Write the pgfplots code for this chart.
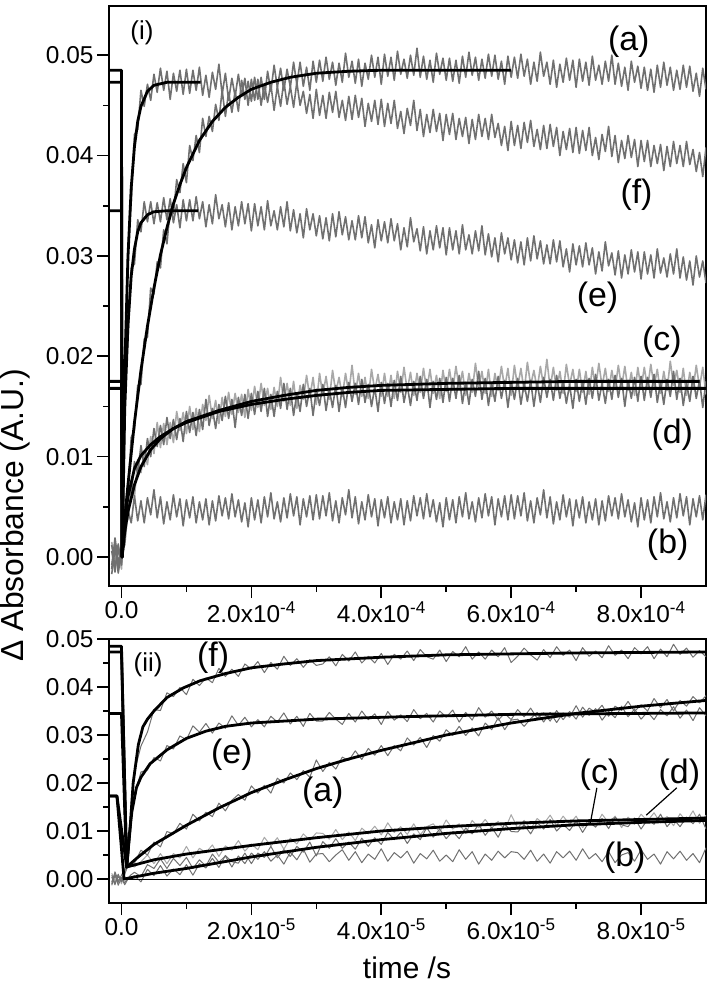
\documentclass[border=0pt]{standalone}
\usepackage{fontspec}
\setmainfont{Liberation Sans}
\usepackage{pgfplots}
\usepackage{pgfplotstable}
\pgfplotsset{compat=1.18}

\definecolor{trace}{RGB}{112,112,112}
\definecolor{tracelt}{RGB}{168,168,168}

% panel (i): time in units of 1e-4 s
\pgfplotstableread{
t a b c d e f
-0.15 0.0012 -0.0008 0.0015 -0.0012 0.0006 -0.0017
-0.10 -0.0010 0.0014 -0.0006 0.0019 -0.0015 0.0008
-0.05 0.0007 -0.0016 0.0011 -0.0004 0.0013 -0.0009
0.00 -0.0006 0.0005 -0.0012 0.0003 -0.0008 0.0010
0.05 0.0050 0.0012 0.0039 0.0026 0.0157 0.0175
0.10 0.0063 0.0047 0.0037 0.0072 0.0218 0.0308
0.15 0.0119 0.0034 0.0071 0.0062 0.0288 0.0354
0.20 0.0127 0.0061 0.0060 0.0095 0.0292 0.0421
0.25 0.0171 0.0036 0.0097 0.0084 0.0336 0.0426
0.30 0.0172 0.0056 0.0084 0.0111 0.0324 0.0465
0.35 0.0217 0.0034 0.0105 0.0090 0.0354 0.0449
0.40 0.0219 0.0059 0.0092 0.0118 0.0334 0.0471
0.45 0.0268 0.0042 0.0120 0.0100 0.0354 0.0455
0.50 0.0262 0.0067 0.0103 0.0128 0.0332 0.0481
0.55 0.0294 0.0039 0.0134 0.0110 0.0353 0.0463
0.60 0.0288 0.0060 0.0109 0.0131 0.0334 0.0487
0.65 0.0326 0.0033 0.0133 0.0112 0.0358 0.0465
0.70 0.0312 0.0055 0.0112 0.0139 0.0336 0.0484
0.75 0.0347 0.0037 0.0134 0.0118 0.0357 0.0456
0.80 0.0342 0.0062 0.0114 0.0137 0.0333 0.0482
0.85 0.0376 0.0040 0.0145 0.0117 0.0351 0.0464
0.90 0.0363 0.0058 0.0126 0.0138 0.0328 0.0485
0.95 0.0392 0.0031 0.0144 0.0115 0.0356 0.0461
1.00 0.0373 0.0057 0.0123 0.0145 0.0335 0.0486
1.05 0.0410 0.0039 0.0150 0.0124 0.0356 0.0462
1.10 0.0395 0.0060 0.0127 0.0144 0.0335 0.0485
1.15 0.0420 0.0034 0.0148 0.0121 0.0359 0.0465
1.20 0.0403 0.0055 0.0125 0.0147 0.0337 0.0488
1.25 0.0437 0.0037 0.0152 0.0127 0.0354 0.0460
1.30 0.0419 0.0058 0.0136 0.0157 0.0329 0.0480
1.35 0.0439 0.0032 0.0161 0.0131 0.0351 0.0458
1.40 0.0424 0.0056 0.0138 0.0148 0.0332 0.0483
1.45 0.0451 0.0036 0.0156 0.0128 0.0361 0.0466
1.50 0.0435 0.0061 0.0133 0.0152 0.0337 0.0491
1.55 0.0465 0.0041 0.0159 0.0136 0.0351 0.0461
1.60 0.0439 0.0059 0.0140 0.0160 0.0329 0.0482
1.65 0.0463 0.0038 0.0164 0.0138 0.0353 0.0455
1.70 0.0443 0.0063 0.0142 0.0157 0.0326 0.0477
1.75 0.0464 0.0040 0.0163 0.0129 0.0349 0.0459
1.80 0.0444 0.0057 0.0144 0.0159 0.0330 0.0481
1.85 0.0475 0.0035 0.0162 0.0141 0.0354 0.0459
1.90 0.0456 0.0054 0.0139 0.0162 0.0332 0.0477
1.95 0.0474 0.0030 0.0167 0.0138 0.0352 0.0450
2.00 0.0454 0.0059 0.0146 0.0163 0.0325 0.0476
2.05 0.0478 0.0037 0.0170 0.0142 0.0352 0.0455
2.10 0.0456 0.0057 0.0149 0.0165 0.0330 0.0476
2.15 0.0478 0.0034 0.0173 0.0145 0.0349 0.0450
2.20 0.0456 0.0060 0.0151 0.0168 0.0326 0.0471
2.25 0.0484 0.0040 0.0168 0.0140 0.0355 0.0453
2.30 0.0464 0.0064 0.0147 0.0162 0.0330 0.0471
2.35 0.0490 0.0038 0.0169 0.0140 0.0345 0.0445
2.40 0.0468 0.0055 0.0150 0.0165 0.0326 0.0469
2.45 0.0487 0.0035 0.0179 0.0148 0.0349 0.0449
2.50 0.0465 0.0059 0.0155 0.0173 0.0329 0.0474
2.55 0.0486 0.0039 0.0173 0.0147 0.0354 0.0451
2.60 0.0468 0.0063 0.0151 0.0168 0.0325 0.0469
2.65 0.0493 0.0041 0.0175 0.0141 0.0346 0.0448
2.70 0.0471 0.0060 0.0148 0.0163 0.0323 0.0473
2.75 0.0493 0.0032 0.0171 0.0145 0.0342 0.0450
2.80 0.0469 0.0058 0.0157 0.0172 0.0318 0.0464
2.85 0.0488 0.0040 0.0181 0.0150 0.0347 0.0442
2.90 0.0465 0.0061 0.0159 0.0168 0.0326 0.0461
2.95 0.0494 0.0037 0.0179 0.0141 0.0342 0.0437
3.00 0.0473 0.0062 0.0152 0.0167 0.0320 0.0466
3.05 0.0495 0.0038 0.0183 0.0151 0.0340 0.0440
3.10 0.0474 0.0061 0.0161 0.0172 0.0317 0.0460
3.15 0.0498 0.0041 0.0180 0.0146 0.0338 0.0437
3.20 0.0476 0.0064 0.0157 0.0167 0.0315 0.0463
3.25 0.0493 0.0036 0.0186 0.0149 0.0342 0.0443
3.30 0.0470 0.0056 0.0164 0.0171 0.0319 0.0464
3.35 0.0492 0.0034 0.0179 0.0145 0.0344 0.0438
3.40 0.0473 0.0059 0.0160 0.0169 0.0321 0.0455
3.45 0.0502 0.0042 0.0183 0.0149 0.0339 0.0435
3.50 0.0478 0.0067 0.0163 0.0174 0.0316 0.0459
3.55 0.0494 0.0039 0.0191 0.0155 0.0335 0.0436
3.60 0.0472 0.0060 0.0162 0.0173 0.0316 0.0460
3.65 0.0496 0.0033 0.0183 0.0152 0.0340 0.0438
3.70 0.0469 0.0055 0.0160 0.0177 0.0318 0.0457
3.75 0.0492 0.0037 0.0179 0.0154 0.0339 0.0429
3.80 0.0476 0.0062 0.0158 0.0172 0.0313 0.0452
3.85 0.0500 0.0040 0.0187 0.0150 0.0331 0.0434
3.90 0.0478 0.0058 0.0166 0.0169 0.0308 0.0455
3.95 0.0498 0.0031 0.0182 0.0145 0.0336 0.0431
4.00 0.0471 0.0057 0.0160 0.0174 0.0315 0.0456
4.05 0.0501 0.0039 0.0183 0.0153 0.0334 0.0429
4.10 0.0479 0.0060 0.0160 0.0173 0.0313 0.0452
4.15 0.0498 0.0034 0.0181 0.0150 0.0337 0.0432
4.20 0.0475 0.0055 0.0158 0.0176 0.0315 0.0455
4.25 0.0504 0.0037 0.0185 0.0156 0.0332 0.0427
4.30 0.0481 0.0058 0.0164 0.0180 0.0306 0.0444
4.35 0.0496 0.0032 0.0189 0.0154 0.0328 0.0422
4.40 0.0477 0.0056 0.0166 0.0171 0.0309 0.0447
4.45 0.0500 0.0036 0.0184 0.0151 0.0338 0.0430
4.50 0.0480 0.0061 0.0161 0.0175 0.0314 0.0455
4.55 0.0507 0.0041 0.0183 0.0156 0.0327 0.0425
4.60 0.0478 0.0059 0.0164 0.0180 0.0305 0.0446
4.65 0.0499 0.0038 0.0188 0.0158 0.0329 0.0419
4.70 0.0476 0.0063 0.0166 0.0177 0.0302 0.0441
4.75 0.0495 0.0040 0.0187 0.0149 0.0325 0.0423
4.80 0.0473 0.0057 0.0163 0.0175 0.0306 0.0446
4.85 0.0502 0.0035 0.0181 0.0157 0.0330 0.0424
4.90 0.0481 0.0054 0.0158 0.0178 0.0308 0.0442
4.95 0.0497 0.0030 0.0186 0.0154 0.0328 0.0415
5.00 0.0475 0.0059 0.0165 0.0179 0.0301 0.0441
5.05 0.0497 0.0037 0.0187 0.0155 0.0328 0.0421
5.10 0.0474 0.0057 0.0166 0.0178 0.0306 0.0442
5.15 0.0495 0.0034 0.0190 0.0158 0.0325 0.0416
5.20 0.0472 0.0060 0.0168 0.0181 0.0302 0.0437
5.25 0.0499 0.0040 0.0185 0.0153 0.0331 0.0419
5.30 0.0478 0.0064 0.0161 0.0174 0.0306 0.0438
5.35 0.0503 0.0038 0.0183 0.0152 0.0321 0.0412
5.40 0.0480 0.0055 0.0164 0.0177 0.0302 0.0436
5.45 0.0498 0.0035 0.0193 0.0160 0.0325 0.0416
5.50 0.0475 0.0059 0.0169 0.0185 0.0305 0.0441
5.55 0.0496 0.0039 0.0185 0.0157 0.0330 0.0419
5.60 0.0477 0.0063 0.0163 0.0178 0.0301 0.0437
5.65 0.0501 0.0041 0.0187 0.0151 0.0322 0.0416
5.70 0.0479 0.0060 0.0160 0.0173 0.0299 0.0441
5.75 0.0500 0.0032 0.0183 0.0155 0.0318 0.0418
5.80 0.0476 0.0058 0.0166 0.0180 0.0294 0.0432
5.85 0.0494 0.0040 0.0190 0.0158 0.0323 0.0410
5.90 0.0471 0.0061 0.0168 0.0176 0.0302 0.0429
5.95 0.0499 0.0037 0.0188 0.0149 0.0318 0.0405
6.00 0.0478 0.0062 0.0161 0.0175 0.0296 0.0434
6.05 0.0498 0.0038 0.0191 0.0157 0.0316 0.0410
6.10 0.0477 0.0061 0.0169 0.0178 0.0293 0.0430
6.15 0.0501 0.0041 0.0188 0.0152 0.0314 0.0407
6.20 0.0479 0.0064 0.0165 0.0173 0.0291 0.0433
6.25 0.0496 0.0036 0.0194 0.0155 0.0318 0.0413
6.30 0.0471 0.0056 0.0171 0.0176 0.0295 0.0435
6.35 0.0493 0.0034 0.0186 0.0150 0.0320 0.0409
6.40 0.0474 0.0059 0.0167 0.0174 0.0297 0.0426
6.45 0.0503 0.0042 0.0190 0.0154 0.0315 0.0406
6.50 0.0479 0.0067 0.0170 0.0179 0.0292 0.0430
6.55 0.0493 0.0039 0.0197 0.0159 0.0311 0.0407
6.60 0.0471 0.0060 0.0168 0.0177 0.0292 0.0431
6.65 0.0495 0.0033 0.0189 0.0156 0.0316 0.0409
6.70 0.0468 0.0055 0.0166 0.0181 0.0294 0.0428
6.75 0.0491 0.0037 0.0185 0.0158 0.0315 0.0400
6.80 0.0473 0.0062 0.0163 0.0175 0.0289 0.0424
6.85 0.0497 0.0040 0.0192 0.0153 0.0307 0.0406
6.90 0.0475 0.0058 0.0171 0.0172 0.0284 0.0427
6.95 0.0495 0.0031 0.0187 0.0148 0.0312 0.0403
7.00 0.0468 0.0057 0.0165 0.0177 0.0291 0.0428
7.05 0.0496 0.0039 0.0187 0.0155 0.0310 0.0402
7.10 0.0474 0.0060 0.0164 0.0175 0.0289 0.0425
7.15 0.0493 0.0034 0.0185 0.0152 0.0313 0.0405
7.20 0.0470 0.0055 0.0162 0.0178 0.0291 0.0428
7.25 0.0499 0.0037 0.0189 0.0158 0.0308 0.0400
7.30 0.0475 0.0058 0.0168 0.0182 0.0282 0.0418
7.35 0.0490 0.0032 0.0193 0.0156 0.0304 0.0396
7.40 0.0471 0.0056 0.0170 0.0173 0.0285 0.0421
7.45 0.0494 0.0036 0.0188 0.0153 0.0314 0.0404
7.50 0.0474 0.0061 0.0165 0.0177 0.0290 0.0429
7.55 0.0500 0.0041 0.0186 0.0157 0.0303 0.0399
7.60 0.0471 0.0059 0.0167 0.0181 0.0281 0.0420
7.65 0.0492 0.0038 0.0191 0.0159 0.0305 0.0393
7.70 0.0469 0.0063 0.0169 0.0178 0.0278 0.0415
7.75 0.0488 0.0040 0.0190 0.0150 0.0301 0.0397
7.80 0.0465 0.0057 0.0166 0.0176 0.0282 0.0420
7.85 0.0494 0.0035 0.0184 0.0158 0.0306 0.0398
7.90 0.0473 0.0054 0.0161 0.0179 0.0284 0.0416
7.95 0.0489 0.0030 0.0189 0.0155 0.0304 0.0389
8.00 0.0467 0.0059 0.0168 0.0180 0.0277 0.0415
8.05 0.0488 0.0037 0.0189 0.0156 0.0304 0.0394
8.10 0.0465 0.0057 0.0168 0.0179 0.0282 0.0415
8.15 0.0486 0.0034 0.0192 0.0159 0.0301 0.0389
8.20 0.0463 0.0060 0.0170 0.0182 0.0278 0.0410
8.25 0.0490 0.0040 0.0187 0.0154 0.0307 0.0392
8.30 0.0468 0.0064 0.0163 0.0174 0.0283 0.0411
8.35 0.0493 0.0038 0.0185 0.0152 0.0298 0.0385
8.40 0.0470 0.0055 0.0166 0.0177 0.0279 0.0409
8.45 0.0488 0.0035 0.0195 0.0160 0.0302 0.0389
8.50 0.0465 0.0059 0.0171 0.0185 0.0282 0.0414
8.55 0.0485 0.0039 0.0186 0.0157 0.0307 0.0392
8.60 0.0466 0.0063 0.0164 0.0178 0.0278 0.0410
8.65 0.0490 0.0041 0.0188 0.0151 0.0299 0.0389
8.70 0.0468 0.0060 0.0161 0.0173 0.0276 0.0414
8.75 0.0489 0.0032 0.0184 0.0155 0.0295 0.0391
8.80 0.0464 0.0058 0.0167 0.0180 0.0271 0.0406
8.85 0.0482 0.0040 0.0191 0.0158 0.0300 0.0384
8.90 0.0459 0.0061 0.0169 0.0176 0.0279 0.0403
8.95 0.0487 0.0037 0.0189 0.0149 0.0295 0.0379
9.00 0.0466 0.0062 0.0162 0.0175 0.0273 0.0408
}\topdata

% panel (ii): time in units of 1e-5 s
\pgfplotstableread{
t a b c d e f
-0.15 0.0008 -0.0006 0.0012 -0.0010 0.0004 -0.0013
-0.10 -0.0009 0.0011 -0.0004 0.0015 -0.0012 0.0007
-0.05 0.0005 -0.0013 0.0009 -0.0003 0.0010 -0.0007
0.00 -0.0004 0.0003 -0.0010 0.0002 -0.0006 0.0008
0.05 0.0010 -0.0008 0.0014 -0.0012 0.0018 0.0020
0.10 0.0028 0.0002 0.0027 0.0000 0.0028 0.0028
0.15 0.0031 0.0009 0.0028 0.0004 0.0130 0.0160
0.20 0.0033 0.0014 0.0025 0.0007 0.0173 0.0224
0.30 0.0060 0.0005 0.0036 -0.0006 0.0223 0.0277
0.40 0.0050 0.0030 0.0050 0.0020 0.0227 0.0306
0.50 0.0077 0.0022 0.0032 0.0007 0.0253 0.0353
0.60 0.0067 0.0042 0.0053 0.0028 0.0246 0.0351
0.70 0.0099 0.0022 0.0032 0.0006 0.0278 0.0388
0.80 0.0094 0.0043 0.0053 0.0021 0.0271 0.0380
0.90 0.0116 0.0028 0.0044 0.0009 0.0298 0.0399
1.00 0.0104 0.0045 0.0068 0.0030 0.0290 0.0384
1.10 0.0135 0.0022 0.0044 0.0008 0.0319 0.0416
1.20 0.0121 0.0040 0.0064 0.0032 0.0306 0.0403
1.30 0.0139 0.0027 0.0055 0.0023 0.0324 0.0419
1.40 0.0130 0.0052 0.0071 0.0043 0.0304 0.0409
1.50 0.0158 0.0035 0.0047 0.0024 0.0325 0.0439
1.60 0.0142 0.0048 0.0069 0.0049 0.0314 0.0422
1.70 0.0164 0.0025 0.0060 0.0036 0.0340 0.0437
1.80 0.0176 0.0048 0.0080 0.0033 0.0320 0.0422
1.90 0.0164 0.0032 0.0058 0.0054 0.0337 0.0448
2.00 0.0194 0.0054 0.0073 0.0032 0.0317 0.0437
2.10 0.0179 0.0041 0.0061 0.0054 0.0332 0.0453
2.20 0.0195 0.0057 0.0087 0.0045 0.0317 0.0430
2.30 0.0179 0.0037 0.0069 0.0068 0.0339 0.0451
2.40 0.0210 0.0050 0.0086 0.0044 0.0327 0.0437
2.50 0.0200 0.0031 0.0062 0.0061 0.0346 0.0464
2.60 0.0221 0.0056 0.0085 0.0047 0.0323 0.0445
2.70 0.0207 0.0040 0.0073 0.0068 0.0339 0.0459
2.80 0.0226 0.0062 0.0094 0.0056 0.0318 0.0441
2.90 0.0212 0.0035 0.0081 0.0077 0.0345 0.0457
3.00 0.0248 0.0052 0.0096 0.0048 0.0329 0.0445
3.10 0.0224 0.0053 0.0095 0.0078 0.0329 0.0448
3.20 0.0243 0.0036 0.0083 0.0064 0.0347 0.0463
3.30 0.0229 0.0050 0.0103 0.0084 0.0333 0.0444
3.40 0.0254 0.0061 0.0082 0.0064 0.0322 0.0468
3.50 0.0247 0.0039 0.0098 0.0077 0.0345 0.0454
3.60 0.0267 0.0057 0.0080 0.0062 0.0327 0.0473
3.70 0.0249 0.0034 0.0106 0.0085 0.0350 0.0450
3.80 0.0272 0.0052 0.0094 0.0068 0.0332 0.0464
3.90 0.0258 0.0041 0.0110 0.0086 0.0344 0.0450
4.00 0.0278 0.0063 0.0092 0.0072 0.0322 0.0470
4.10 0.0257 0.0037 0.0117 0.0097 0.0349 0.0447
4.20 0.0278 0.0055 0.0097 0.0082 0.0331 0.0468
4.30 0.0267 0.0044 0.0109 0.0097 0.0342 0.0458
4.40 0.0294 0.0058 0.0093 0.0074 0.0328 0.0475
4.50 0.0279 0.0033 0.0115 0.0094 0.0353 0.0455
4.60 0.0295 0.0053 0.0092 0.0082 0.0334 0.0478
4.70 0.0274 0.0042 0.0109 0.0107 0.0345 0.0463
4.80 0.0299 0.0060 0.0115 0.0087 0.0327 0.0458
4.90 0.0287 0.0037 0.0098 0.0104 0.0350 0.0477
5.00 0.0311 0.0050 0.0123 0.0084 0.0337 0.0453
5.10 0.0299 0.0036 0.0104 0.0099 0.0352 0.0474
5.20 0.0318 0.0061 0.0115 0.0084 0.0327 0.0463
5.30 0.0299 0.0041 0.0095 0.0106 0.0347 0.0484
5.40 0.0315 0.0057 0.0122 0.0094 0.0331 0.0458
5.50 0.0298 0.0031 0.0107 0.0114 0.0357 0.0473
5.60 0.0325 0.0052 0.0124 0.0091 0.0337 0.0458
5.70 0.0311 0.0039 0.0106 0.0108 0.0350 0.0477
5.80 0.0336 0.0058 0.0120 0.0087 0.0331 0.0463
5.90 0.0311 0.0044 0.0102 0.0115 0.0345 0.0482
6.00 0.0331 0.0057 0.0134 0.0099 0.0332 0.0451
6.10 0.0333 0.0055 0.0106 0.0098 0.0353 0.0464
6.20 0.0318 0.0041 0.0122 0.0113 0.0338 0.0481
6.30 0.0334 0.0060 0.0104 0.0094 0.0356 0.0467
6.40 0.0347 0.0037 0.0126 0.0118 0.0335 0.0456
6.50 0.0327 0.0052 0.0115 0.0104 0.0346 0.0478
6.60 0.0347 0.0033 0.0133 0.0124 0.0329 0.0461
6.70 0.0326 0.0057 0.0111 0.0100 0.0351 0.0484
6.80 0.0346 0.0044 0.0131 0.0114 0.0332 0.0466
6.90 0.0337 0.0058 0.0114 0.0101 0.0349 0.0477
7.00 0.0361 0.0039 0.0131 0.0121 0.0333 0.0455
7.10 0.0337 0.0063 0.0107 0.0097 0.0358 0.0482
7.20 0.0356 0.0042 0.0124 0.0119 0.0341 0.0464
7.30 0.0347 0.0053 0.0111 0.0108 0.0355 0.0475
7.40 0.0362 0.0036 0.0135 0.0126 0.0331 0.0461
7.50 0.0339 0.0057 0.0117 0.0105 0.0349 0.0486
7.60 0.0360 0.0034 0.0131 0.0129 0.0336 0.0466
7.70 0.0351 0.0050 0.0107 0.0113 0.0360 0.0477
7.80 0.0370 0.0055 0.0129 0.0109 0.0338 0.0459
7.90 0.0349 0.0037 0.0114 0.0127 0.0354 0.0482
8.00 0.0363 0.0061 0.0135 0.0104 0.0333 0.0469
8.10 0.0350 0.0041 0.0121 0.0124 0.0348 0.0484
8.20 0.0376 0.0052 0.0138 0.0114 0.0332 0.0459
8.30 0.0357 0.0031 0.0117 0.0135 0.0353 0.0479
8.40 0.0374 0.0057 0.0130 0.0109 0.0340 0.0463
8.50 0.0350 0.0042 0.0111 0.0125 0.0359 0.0489
8.60 0.0372 0.0058 0.0136 0.0109 0.0335 0.0468
8.70 0.0360 0.0039 0.0120 0.0129 0.0352 0.0481
8.80 0.0380 0.0053 0.0142 0.0115 0.0330 0.0462
8.90 0.0367 0.0034 0.0116 0.0135 0.0357 0.0476
9.00 0.0382 0.0065 0.0133 0.0104 0.0340 0.0463
}\botdata

\pgfplotsset{
  kin/.style={
    scale only axis, width=597bp,
    xmin=-0.192, xmax=9.0,
    tick align=outside, tick pos=left,
    axis line style={line width=1.6bp},
    every tick/.style={black, line width=1.6bp},
    major tick length=12bp, minor tick length=6bp,
    xtick={0,2,4,6,8}, minor x tick num=1,
    ytick={0,0.01,0.02,0.03,0.04,0.05}, minor y tick num=1,
    yticklabels={0.00,0.01,0.02,0.03,0.04,0.05},
    scaled y ticks=false, scaled x ticks=false,
    tick label style={font=\fontsize{24.5}{28}\selectfont},
  },
  noisy/.style={trace, line width=1.6bp, line join=round},
  noisylt/.style={tracelt, line width=1.6bp, line join=round},
  fit/.style={black, line width=2.8bp, line join=round},
}
\tikzset{lab/.style={font=\fontsize{34}{40}\selectfont}}

\begin{document}
\begin{tikzpicture}
\useasboundingbox (0,0) rectangle (712bp,-984bp);

% ---- (i) ----
\begin{axis}[kin, at={(109bp,-6bp)}, anchor=north west, height=580bp,
  ymin=-0.00289, ymax=0.0549,
  xticklabels={0.0,{2.0x10\textsuperscript{-4}},{4.0x10\textsuperscript{-4}},{6.0x10\textsuperscript{-4}},{8.0x10\textsuperscript{-4}}}]
\addplot[noisylt] table[x=t,y=c]{\topdata};
\addplot[noisy] table[x=t,y=d]{\topdata};
\addplot[noisy] table[x=t,y=b]{\topdata};
\addplot[noisy] table[x=t,y=e]{\topdata};
\addplot[noisy] table[x=t,y=f]{\topdata};
\addplot[noisy] table[x=t,y=a]{\topdata};

\addplot[fit] coordinates {(-0.192,0.0485) (0,0.0485) (0.01,0) (0.05,0.0038) (0.1,0.0072) (0.2,0.0134) (0.3,0.0186) (0.4,0.0230) (0.5,0.0268) (0.6,0.0301) (0.7,0.0328) (0.8,0.0352) (0.9,0.0371) (1.0,0.0388) (1.2,0.0415) (1.4,0.0434) (1.6,0.0448) (1.8,0.0458) (2.0,0.0466) (2.3,0.0473) (2.6,0.0478) (3.0,0.0482) (3.5,0.0484) (4.0,0.0485) (6.0,0.0485)};
\addplot[fit] coordinates {(-0.192,0.0473) (0,0.0473) (0.01,0) (0.05,0.0186) (0.1,0.0299) (0.15,0.0368) (0.2,0.0409) (0.25,0.0434) (0.3,0.0449) (0.4,0.0464) (0.5,0.0470) (0.7,0.0473) (1.22,0.0473)};
\addplot[fit] coordinates {(-0.192,0.0345) (0,0.0345) (0.01,0) (0.05,0.0147) (0.1,0.0231) (0.15,0.0280) (0.2,0.0307) (0.25,0.0324) (0.3,0.0333) (0.4,0.0341) (0.5,0.0344) (0.7,0.0345) (1.18,0.0345)};
\addplot[fit] coordinates {(-0.192,0.0175) (0,0.0175) (0.01,0) (0.05,0.0025) (0.1,0.0045) (0.2,0.0072) (0.3,0.0090) (0.45,0.0107) (0.6,0.0118) (0.8,0.0128) (1.0,0.0135) (1.5,0.0146) (2.0,0.0155) (2.5,0.0161) (3.0,0.0166) (3.5,0.0169) (4.0,0.0171) (5.0,0.0173) (6.0,0.0174) (7.0,0.0175) (8.9,0.0175)};
\addplot[fit] coordinates {(-0.192,0.0168) (0,0.0168) (0.01,0) (0.05,0.0035) (0.1,0.0060) (0.2,0.0088) (0.3,0.0101) (0.45,0.0112) (0.6,0.0120) (0.8,0.0128) (1.0,0.0134) (1.5,0.0145) (2.0,0.0152) (2.5,0.0157) (3.0,0.0161) (3.5,0.0164) (4.0,0.0166) (5.0,0.0167) (6.0,0.0168) (9.0,0.0168)};

\node[font=\fontsize{26}{30}\selectfont] at (axis cs:0.315,0.0522) {(i)};
\node[lab] at (axis cs:7.81,0.0513) {(a)};
\node[lab] at (axis cs:7.93,0.0361) {(f)};
\node[lab] at (axis cs:7.33,0.0258) {(e)};
\node[lab] at (axis cs:8.32,0.0214) {(c)};
\node[lab] at (axis cs:8.48,0.0122) {(d)};
\node[lab] at (axis cs:8.41,0.0012) {(b)};
\end{axis}

% ---- (ii) ----
\begin{axis}[kin, at={(109bp,-639bp)}, anchor=north west, height=264bp,
  ymin=-0.005, ymax=0.05,
  xticklabels={0.0,{2.0x10\textsuperscript{-5}},{4.0x10\textsuperscript{-5}},{6.0x10\textsuperscript{-5}},{8.0x10\textsuperscript{-5}}}]
\addplot[noisylt, line width=1.0bp] table[x=t,y=c]{\botdata};
\addplot[noisy, line width=1.0bp] table[x=t,y=d]{\botdata};
\addplot[noisy, line width=1.0bp] table[x=t,y=b]{\botdata};
\addplot[noisy, line width=1.0bp] table[x=t,y=a]{\botdata};
\addplot[noisy, line width=1.0bp] table[x=t,y=e]{\botdata};
\addplot[noisy, line width=1.0bp] table[x=t,y=f]{\botdata};

\addplot[black, line width=1bp] coordinates {(0.04,0) (9.0,0)};
\addplot[fit] coordinates {(-0.192,0.0485) (0,0.0485) (0.08,0.0025) (0.25,0.0045) (0.5,0.0072) (1,0.0112) (1.5,0.0148) (2,0.0180) (2.5,0.0206) (3,0.0230) (3.5,0.0250) (4,0.0268) (5,0.0300) (6,0.0325) (7,0.0345) (8,0.0360) (9,0.0372)};
\addplot[fit] coordinates {(-0.192,0.0473) (0,0.0473) (0.08,0.0025) (0.13,0.0100) (0.18,0.0200) (0.26,0.0280) (0.33,0.0317) (0.4,0.0333) (0.5,0.0350) (0.7,0.0378) (0.95,0.0398) (1.21,0.0413) (1.6,0.0428) (2,0.0440) (2.5,0.0448) (3,0.0455) (4,0.0462) (5,0.0467) (6,0.0469) (7,0.0471) (8,0.0472) (9,0.0473)};
\addplot[fit] coordinates {(-0.192,0.0345) (0,0.0345) (0.08,0.0025) (0.12,0.0090) (0.16,0.0140) (0.23,0.0190) (0.3,0.0212) (0.44,0.0240) (0.7,0.0269) (1.0,0.0293) (1.3,0.0308) (1.6,0.0318) (2,0.0325) (3,0.0333) (4.3,0.0338) (6,0.0343) (9,0.0346)};
\addplot[fit] coordinates {(-0.192,0.0173) (-0.07,0.0173) (0.08,0.0025) (0.5,0.0040) (1,0.0052) (2,0.0070) (3,0.0086) (4,0.0100) (5,0.0109) (6,0.0116) (7,0.0121) (8,0.0124) (9,0.0127)};
\addplot[fit] coordinates {(-0.192,0.0173) (-0.07,0.0173) (0.04,0) (0.5,0.0012) (1,0.0022) (2,0.0046) (3,0.0066) (4,0.0082) (5,0.0095) (6,0.0105) (7,0.0113) (8,0.0118) (9,0.0122)};

\node[font=\fontsize{26}{30}\selectfont] at (axis cs:0.41,0.0446) {(ii)};
\node[lab] at (axis cs:1.41,0.0460) {(f)};
\node[lab] at (axis cs:1.70,0.0258) {(e)};
\node[lab] at (axis cs:3.10,0.0179) {(a)};
\node[lab] at (axis cs:7.36,0.0217) {(c)};
\node[lab] at (axis cs:8.59,0.0217) {(d)};
\node[lab] at (axis cs:7.75,0.0044) {(b)};
\draw[line width=1.2bp] (axis cs:7.32,0.0190) -- (axis cs:7.22,0.0117);
\draw[line width=1.2bp] (axis cs:8.55,0.0190) -- (axis cs:8.08,0.0133);
\end{axis}

\node[rotate=90, font=\fontsize{32}{38}\selectfont] at (15bp,-515bp) {Δ Absorbance (A.U.)};
\node[font=\fontsize{30}{36}\selectfont] at (407bp,-968bp) {time /s};
\end{tikzpicture}
\end{document}
